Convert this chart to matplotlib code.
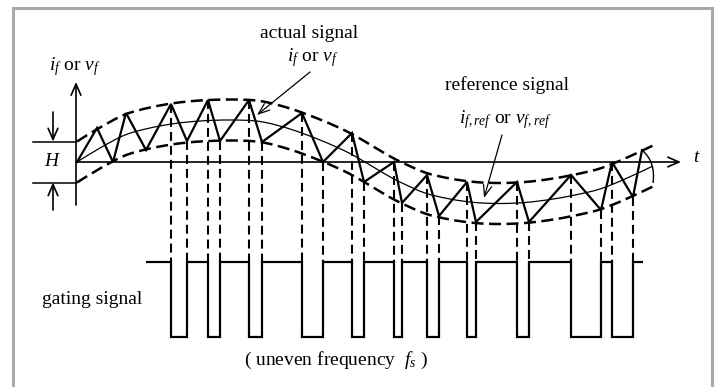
import numpy as np
import matplotlib
matplotlib.use("Agg")
import matplotlib.pyplot as plt
from matplotlib.path import Path
from matplotlib.patches import PathPatch, Rectangle

# =============================
# Data (t along the time axis, value above the t axis)
# =============================
# reference signal i_f,ref / v_f,ref
ref_t = [77, 100, 125, 150, 175, 200, 230, 260, 290, 320, 345, 365, 385, 400,
         425, 450, 475, 500, 525, 550, 575, 600, 625, 653]
ref_v = [0, 14, 27, 34, 38.5, 41, 42, 40.5, 33, 22, 11, 0, -12, -20,
         -31, -37, -40.5, -41.5, -40.5, -37.5, -33, -27, -17, -4]
H = 41  # hysteresis band width

# actual signal i_f / v_f (zigzag vertices)
zig_t = [77, 97, 113, 126, 146, 171, 187, 208, 220, 249, 262, 302, 323, 352,
         364, 394, 402, 427, 439, 467, 476, 517, 529, 571, 601, 612, 633, 642]
zig_v = [0, 34, 0, 49, 12, 58, 21, 62, 21, 62, 20, 49, 0, 29,
         -20, 0, -41, -13, -54, -20, -60, -20, -60, -13, -48, 0, -35, 12]

# small closing arc at the right end
tail_t = [642, 656, 653]
tail_v = [12, 0, -21]

# gating signal
gate_start, gate_end = 146, 643
gate_high, gate_low = -100, -175

# =============================
# Helpers
# =============================
def smooth_path(xs, ys):
    pts = np.column_stack([xs, ys]).astype(float)
    n = len(pts)
    verts = [pts[0]]
    codes = [Path.MOVETO]
    for i in range(n - 1):
        p0 = pts[max(i - 1, 0)]
        p1 = pts[i]
        p2 = pts[i + 1]
        p3 = pts[min(i + 2, n - 1)]
        verts += [p1 + (p2 - p0) / 6, p2 - (p3 - p1) / 6, p2]
        codes += [Path.CURVE4] * 3
    return Path(verts, codes)

plt.rcParams['font.family'] = ['Liberation Serif', 'DejaVu Serif']
plt.rcParams['mathtext.fontset'] = 'custom'
plt.rcParams['mathtext.rm'] = 'Liberation Serif'
plt.rcParams['mathtext.it'] = 'Liberation Serif:italic'

fig = plt.figure(figsize=(7.18, 3.87), dpi=100)
ax = fig.add_axes([0, 0, 1, 1])
ax.set_xlim(0, 718)
ax.set_ylim(-225, 162)
ax.axis('off')

# frame
ax.add_patch(Rectangle((13, -230), 699, 384, fill=False, edgecolor='#aaaaaa',
                       lw=2.2, clip_on=False))

# axes with arrows
arr = dict(arrowstyle='->,head_length=0.8,head_width=0.35', lw=1.2,
           color='black', shrinkA=0, shrinkB=0)
ax.annotate('', xy=(76, 80), xytext=(76, -43), arrowprops=arr)
ax.annotate('', xy=(681, 0), xytext=(76, 0), arrowprops=arr)

# H markers
ax.plot([33, 76], [H / 2, H / 2], color='black', lw=1.1)
ax.plot([33, 76], [-H / 2, -H / 2], color='black', lw=1.1)
ax.annotate('', xy=(53, H / 2), xytext=(53, 50), arrowprops=arr)
ax.annotate('', xy=(53, -H / 2), xytext=(53, -48), arrowprops=arr)

# reference and hysteresis band
ref_v_arr = np.array(ref_v)
ax.add_patch(PathPatch(smooth_path(ref_t, ref_v_arr), fill=False, lw=0.9,
                       edgecolor='black'))
for off in (H / 2, -H / 2):
    ax.add_patch(PathPatch(smooth_path(ref_t, ref_v_arr + off), fill=False,
                           lw=1.8, edgecolor='black',
                           linestyle=(0, (4.8, 2.2))))

# actual signal
ax.plot(zig_t, zig_v, color='black', lw=1.6, solid_joinstyle='miter')
ax.add_patch(PathPatch(Path(np.column_stack([tail_t, tail_v]),
                            [Path.MOVETO, Path.CURVE3, Path.CURVE3]),
                       fill=False, lw=1.0, edgecolor='black'))

# switching instants and gating signal
edges = [gate_start]
levels = []
level = gate_high
for i in range(1, len(zig_t) - 1):
    t = zig_t[i]
    if gate_start < t < gate_end:
        levels.append(level)
        edges.append(t)
        level = gate_low if zig_v[i] > zig_v[i - 1] else gate_high
        ax.plot([t, t], [zig_v[i], gate_high], color='black', lw=1.5,
                linestyle=(0, (4.3, 2.4)))
levels.append(level)
edges.append(gate_end)
ax.stairs(levels, edges, baseline=None, color='black', lw=1.6)

# labels
fs = 14
ax.text(75, 95, r'$i_f$ or $v_f$', ha='center', va='center', fontsize=fs)
ax.text(53, 0, r'$H$', ha='center', va='center', fontsize=fs)
ax.text(697, 5, r'$t$', ha='center', va='center', fontsize=fs)
ax.text(309, 129, 'actual signal', ha='center', va='center', fontsize=fs)
ax.text(313, 104, r'$i_f$ or $v_f$', ha='center', va='center', fontsize=fs)
ax.text(507, 77, 'reference signal', ha='center', va='center', fontsize=fs)
ax.text(505, 42, r'$i_{f,ref}$ or $v_{f,ref}$', ha='center', va='center',
        fontsize=fs)
ax.text(92, -138, 'gating signal', ha='center', va='center', fontsize=fs)
ax.text(336, -198, r'( uneven frequency  $f_s$ )', ha='center', va='center',
        fontsize=fs)

thin = dict(arrowstyle='->,head_length=0.8,head_width=0.3', lw=0.9,
            color='black', shrinkA=0, shrinkB=0)
ax.annotate('', xy=(257, 47), xytext=(310, 90), arrowprops=thin)
ax.annotate('', xy=(484, -36), xytext=(502, 27), arrowprops=thin)

fig.savefig('out.png', dpi=100)
